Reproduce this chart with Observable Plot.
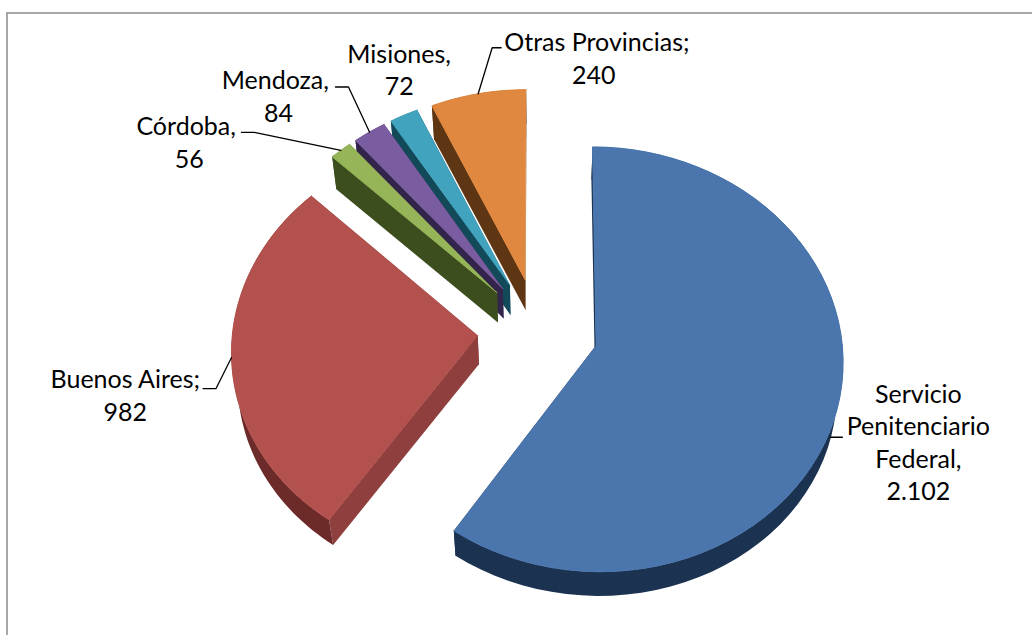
<!DOCTYPE html>
<html>
<head>
<meta charset="utf-8">
<script src="https://cdn.jsdelivr.net/npm/d3@7"></script>
<script src="https://cdn.jsdelivr.net/npm/@observablehq/plot@0.6"></script>
<style>
html,body{margin:0;padding:0;background:#fff}
svg{display:block}
</style>
</head>
<body>
<div id="chart"></div>
<script>
// Data
const categories = ["Servicio\nPenitenciario\nFederal", "Buenos Aires", "Córdoba", "Mendoza", "Misiones", "\u00a0Otras Provincias"];
const values = [2102, 982, 56, 84, 72, 240];
const separators = [",", ";", ",\u00a0", ",\u00a0", ",", ";"];

// Styles
const topColors  = ["#4a76ad", "#b2514e", "#95b558", "#7a5da0", "#41a3bd", "#e0883f"];
const wallOuter  = ["#1b3250", "#6c2b29", "#3d4e1e", "#32244b", "#134a5a", "#5f3614"];
const wallRadial = ["#1b3250", "#8f3f3d", "#3d4e1e", "#32244b", "#134a5a", "#5f3614"];

// Projection of the tilted pie (layout constants)
const cx = 537.5, cy = 329.5, R = 245, explode = 60.5, tilt = 0.855, persp = 0.00027;
const shrink = 0.98, depth = 29;
const project = (X, Y) => {
  const w = 1 + persp * Y;
  return [cx + X / w, cy - tilt * Y / w];
};
const lower = ([x, y]) => [cx + (x - cx) * shrink, cy + (y - cy) * shrink + depth];

const arcs = d3.pie().sort(null)(values);
const pointOn = (arc, angle, r) => {
  const mid = (arc.startAngle + arc.endAngle) / 2;
  const X = explode * Math.sin(mid) + r * Math.sin(angle);
  const Y = explode * Math.cos(mid) + r * Math.cos(angle);
  return project(X, Y);
};
const rim = arc => d3.range(0, 65).map(i => {
  const t = arc.startAngle + (arc.endAngle - arc.startAngle) * i / 64;
  return pointOn(arc, t, R);
});

const faces = [];
const addFace = (id, color, sw, pts) => pts.forEach(p => faces.push({id, color, sw, x: p[0], y: p[1]}));
// back to front
[5, 4, 3, 2, 1, 0].forEach(i => {
  const arc = arcs[i];
  const apex = pointOn(arc, 0, 0);
  const edge = rim(arc);
  addFace(`r0${i}`, wallRadial[i], 0, [apex, edge[0], lower(edge[0]), lower(apex)]);
  addFace(`r1${i}`, wallRadial[i], 0, [apex, edge[64], lower(edge[64]), lower(apex)]);
  addFace(`o${i}`, wallOuter[i], 0, [...edge, ...edge.slice().reverse().map(lower)]);
  addFace(`t${i}`, topColors[i], 1, [apex, ...edge]);
});

// Label layout, offsets from the rim point at each slice's mid-angle
const labelOffsets = [[81, 33], [-106.2, 36.7], [-151.5, -9], [-91, -37], [-4.7, -46.5], [115.5, -36.5]];
const leaderOffsets = [
  [[-7, 29], [5, 29]],
  [[0, 0], [-15.5, 31], [-28.5, 31]],
  [[0, 0], [-86.5, -18], [-99.5, -18]],
  [[0, 0], [-21, -45], [-34, -45]],
  [],
  [[0, 0], [14, -46], [23, -46]]
];
const fmt = v => d3.format(",")(v).replace(",", ".");
const anchors = arcs.map(a => pointOn(a, (a.startAngle + a.endAngle) / 2, R));
const labels = categories.map((c, i) => ({
  text: `${c}${separators[i]}\n${fmt(values[i])}`,
  x: anchors[i][0] + labelOffsets[i][0],
  y: anchors[i][1] + labelOffsets[i][1]
}));
const leaders = leaderOffsets.flatMap((pts, i) => pts.map(p => ({
  id: i, x: anchors[i][0] + p[0], y: anchors[i][1] + p[1]
})));

const chart = Plot.plot({
  width: 1032, height: 635, margin: 0,
  x: {domain: [0, 1032], range: [0, 1032], axis: null},
  y: {domain: [0, 635], range: [0, 635], axis: null},
  color: {type: "identity"},
  style: {background: "#fff"},
  marks: [
    Plot.ruleX([6.5], {y1: 12.5, y2: 635, stroke: "#8c8c8c", strokeWidth: 1.5, strokeOpacity: 1}),
    Plot.ruleY([12.5], {x1: 6.5, x2: 1032, stroke: "#8c8c8c", strokeWidth: 1.5, strokeOpacity: 1}),
    Plot.line(faces, {x: "x", y: "y", z: "id", fill: "color", stroke: "color", strokeWidth: "sw"}),
    Plot.line(leaders, {x: "x", y: "y", z: "id", stroke: "#000", strokeWidth: 1.3}),
    Plot.text(labels, {x: "x", y: "y", text: "text", fontFamily: "Lato", fontSize: 25, lineHeight: 1.3, fill: "#000", textAnchor: "middle"})
  ]
});
document.getElementById("chart").append(chart);
</script>
</body>
</html>
